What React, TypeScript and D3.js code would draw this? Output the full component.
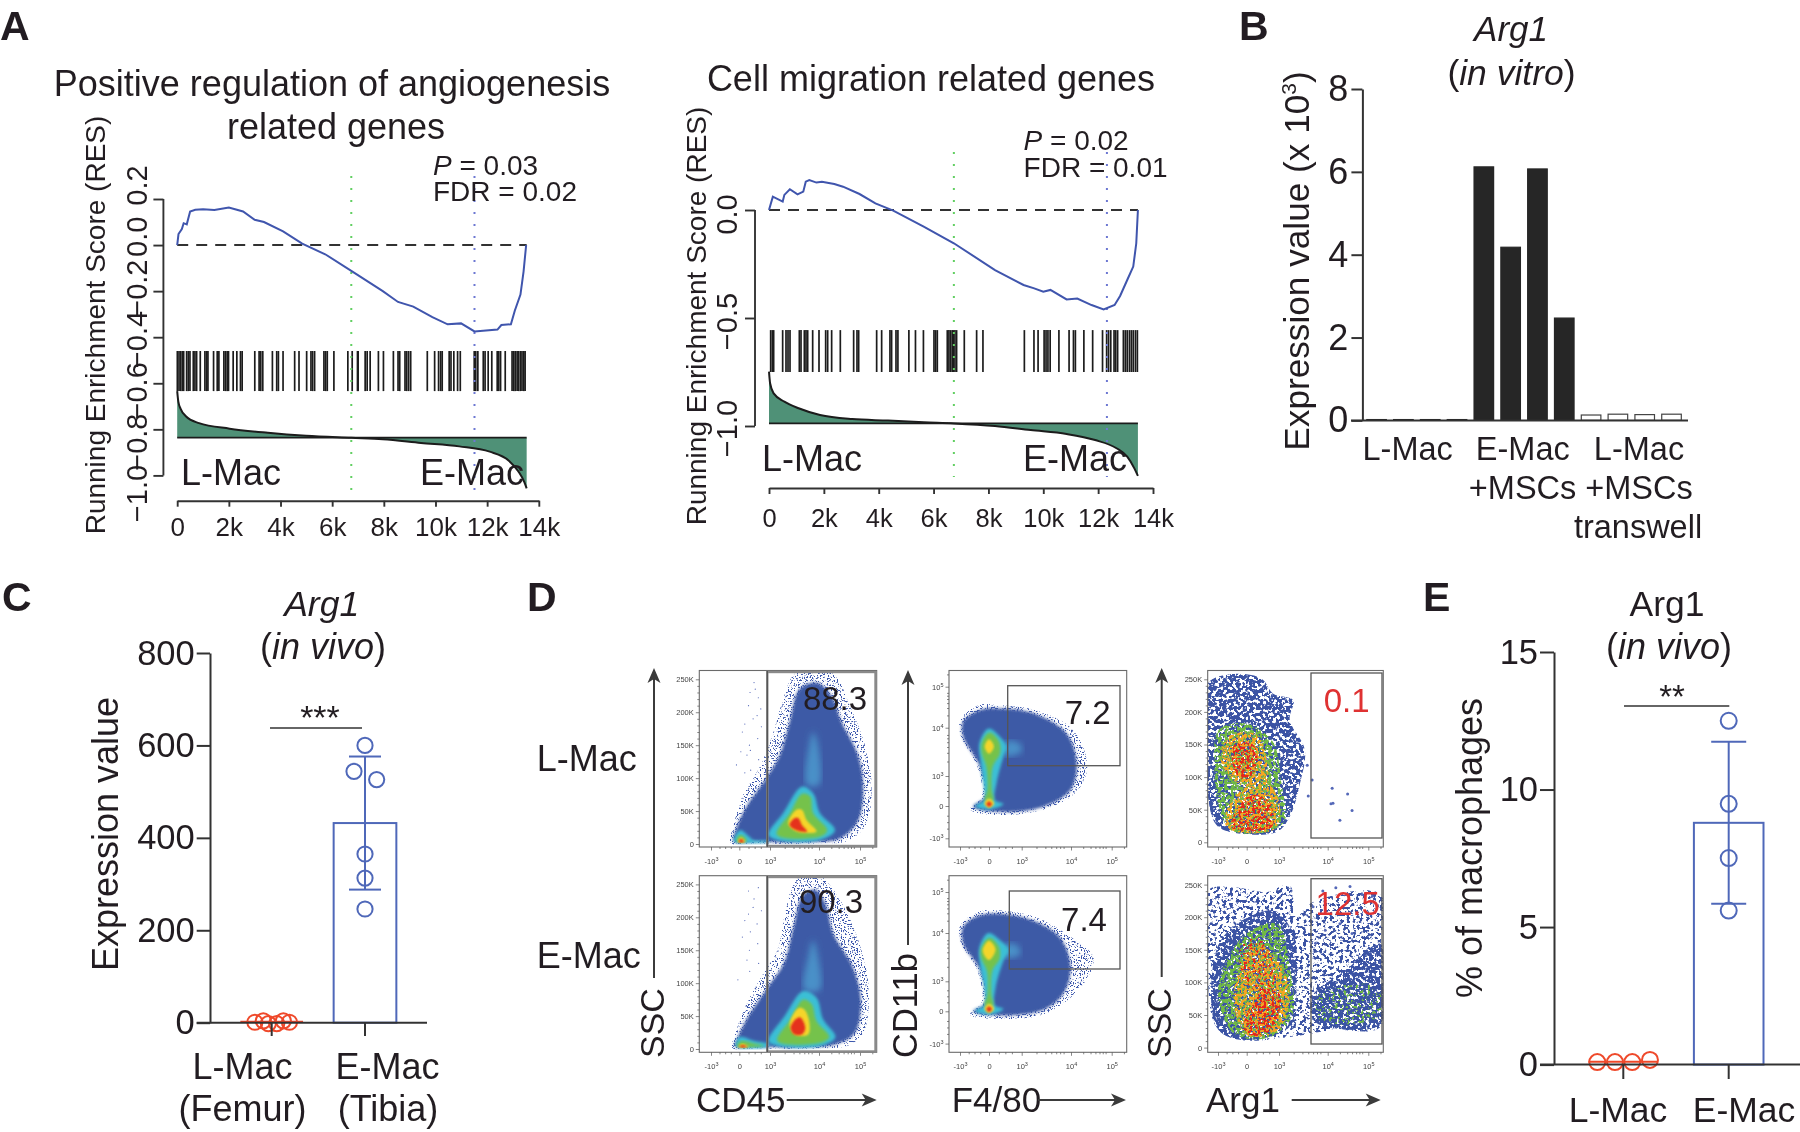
import { useEffect, useRef } from "react";
import * as d3 from "d3";

type Pt = [number, number];
type Layer = [string, Pt[]];

const INK = "#231f20";
const FONT = "'Liberation Sans', Arial, sans-serif";

// ---- panel A, running enrichment score [rank in k, RES]
const angioRes: Pt[] = [[0,0],[.05,.048],[.18,.07],[.25,.095],[.37,.09],[.5,.146],[.7,.153],[1,.155],[1.44,.152],[2,.163],[2.55,.146],[3,.11],[3.36,.1],[4.1,.059],[4.84,.006],[5.73,-.04],[6.74,-.112],[7.96,-.2],[8.55,-.247],[9.14,-.267],[9.88,-.313],[10.47,-.344],[10.99,-.34],[11.51,-.375],[12.4,-.367],[12.55,-.347],[12.92,-.344],[13.07,-.285],[13.29,-.215],[13.41,-.115],[13.51,0]];
const migraRes: Pt[] = [[0,0],[.14,.062],[.5,.039],[.56,.07],[.76,.096],[1.04,.072],[1.25,.085],[1.34,.131],[1.47,.139],[1.73,.127],[1.93,.131],[2.38,.12],[2.7,.108],[3.3,.074],[3.88,.031],[4.53,-.003],[5.64,-.077],[6.74,-.154],[8.24,-.278],[9.28,-.347],[9.67,-.363],[10,-.378],[10.26,-.37],[10.85,-.414],[11.24,-.41],[11.76,-.44],[12.2,-.46],[12.6,-.44],[12.8,-.398],[13.06,-.324],[13.28,-.262],[13.39,-.154],[13.45,0]];

// ranked metric, same axes
const angioMetric: Pt[] = [[0,-.634],[.044,-.68],[.133,-.711],[.326,-.742],[.844,-.773],[2.03,-.797],[3.51,-.815],[4.99,-.828],[6.74,-.837],[7.96,-.843],[9.44,-.859],[10.92,-.874],[12.1,-.897],[12.84,-.936],[13.21,-.983],[13.44,-1.029],[13.53,-1.056]];
const migraMetric: Pt[] = [[0,-.748],[.04,-.802],[.17,-.849],[.56,-.887],[1.08,-.918],[1.86,-.949],[3.03,-.968],[4.34,-.975],[5.64,-.983],[6.74,-.988],[8.24,-1],[9.54,-1.019],[10.85,-1.037],[11.89,-1.065],[12.67,-1.103],[13.06,-1.142],[13.32,-1.196],[13.45,-1.231]];

// gene hits along the ranked list (k)
const angioHits = [.005,.07,.134,.198,.25,.365,.43,.494,.623,.687,.752,.893,1.073,1.138,1.19,1.408,1.55,1.614,1.807,1.871,1.936,1.987,2.167,2.309,2.45,2.515,3.004,3.171,3.236,3.313,3.686,3.853,3.918,4.098,4.548,4.716,5.012,5.179,5.243,5.32,5.681,5.745,5.81,6.067,6.607,6.775,6.98,7.007,7.277,7.354,7.47,7.79,7.985,8.37,8.55,8.615,8.82,8.886,8.96,9.04,9.683,9.967,10.12,10.2,10.26,10.53,10.6,10.71,10.856,10.96,11.5,11.56,11.64,11.85,11.92,12.04,12.18,12.39,12.45,12.52,12.7,12.965,13.03,13.09,13.16,13.22,13.29,13.35,13.42,13.47];
const migraHits = [.061,.122,.17,.498,.62,.693,.766,1.106,1.167,1.288,1.349,1.41,1.592,1.823,2.066,2.139,2.284,2.6,3.086,3.208,3.269,3.925,4.107,4.41,4.47,4.63,4.7,5.1,5.34,5.63,6.015,6.075,6.136,6.5,6.56,6.62,6.68,6.72,6.78,6.84,7.12,7.57,7.8,9.31,9.66,9.81,10.03,10.1,10.17,10.25,10.57,10.94,11.1,11.17,11.48,11.8,12.16,12.31,12.38,12.46,12.58,12.64,12.71,12.92,12.99,13.06,13.14,13.21,13.28,13.36,13.43];

const rankTicks = [0, 2, 4, 6, 8, 10, 12, 14];
const angioResTicks = [-1, -.8, -.6, -.4, -.2, 0, .2];
const migraResTicks = [-1, -.5, 0];

// ---- panel B
const invitroGroups = ["L-Mac", "L-Mac", "L-Mac", "L-Mac", "E-Mac", "E-Mac", "E-Mac", "E-Mac", "Transwell", "Transwell", "Transwell", "Transwell"];
const invitroValues = [.02, .02, .02, .02, 6.12, 4.18, 6.07, 2.47, .13, .15, .14, .15];
const invitroTicks = [0, 2, 4, 6, 8];

// ---- panel C [group offset, value]
const vivoLMac: Pt[] = [[-.18,1],[-.09,4],[-.036,-2],[.054,-2],[.125,4],[.19,1]];
const vivoEMac: Pt[] = [[0,600],[-.118,544],[.125,526],[0,365],[0,313],[0,246]];
const vivoMean = [2, 432];
const vivoSd = [0, 144];
const vivoTicks = [0, 200, 400, 600, 800];

// ---- panel E
const pctLMac: Pt[] = [[-.247,.09],[-.079,.09],[.085,.09],[.253,.17]];
const pctEMac: Pt[] = [[0,12.5],[0,9.48],[0,7.51],[0,5.6]];
const pctMean = [.1, 8.79];
const pctSd = [0, 2.945];
const pctTicks = [0, 5, 10, 15];

// ---- panel D, density outlines in axis units: x in decades (-1 = -10^3, 0, 1 = 10^3, ...), y in K or decades
const cd45TopLayers: Layer[] = [
  ["halo", [[-.3,2],[-.2,28],[.1,72],[.7,120],[1.05,165],[1.25,215],[1.5,258],[1.95,270],[2.4,255],[2.75,210],[3.12,150],[3.28,90],[3.15,30],[2.7,5],[2,1],[.5,1]]],
  ["blue", [[-.2,4],[-.1,24],[.25,58],[.85,98],[1.2,135],[1.4,185],[1.6,235],[1.95,245],[2.3,225],[2.55,185],[2.95,135],[3.08,85],[2.95,35],[2.5,8],[1.8,3],[.5,3]]],
  ["light", [[1.75,90],[1.8,150],[1.88,170],[1.98,150],[2,90]]],
  ["cyan", [[1.65,87],[1.27,47],[.95,14],[1.14,6],[2.02,6],[2.39,21],[2.02,47],[1.88,77]]],
  ["cyan", [[-.2,4],[.02,21],[.3,12],[.46,6],[1,5],[.95,3],[0,2]]],
  ["green", [[1.65,76],[1.41,47],[1.14,14],[2.02,11],[2.2,21],[1.88,47],[1.82,72]]],
  ["green", [[-.1,4],[.03,14],[.25,5]]],
  ["yellow", [[1.54,52],[1.37,31],[1.54,19],[1.95,19],[1.75,36],[1.65,52]]],
  ["yellow", [[-.05,3],[.05,10],[.2,3]]],
  ["red", [[1.5,39],[1.4,29],[1.54,21],[1.76,19],[1.65,29],[1.58,39]]],
  ["red", [[-.02,3],[.06,8],[.15,3]]],
];
const cd45BottomLayers: Layer[] = [
  ["halo", [[-.25,2],[-.15,22],[.2,65],[.75,112],[1.15,150],[1.32,210],[1.52,255],[1.9,270],[2.25,250],[2.7,205],[3.1,135],[3.22,80],[3.08,25],[2.7,5],[2,1],[.5,1]]],
  ["blue", [[-.15,4],[-.05,18],[.3,50],[.9,92],[1.28,130],[1.48,185],[1.66,232],[1.92,242],[2.15,222],[2.35,175],[2.82,125],[3.02,75],[2.88,25],[2.45,8],[1.8,3],[.5,3]]],
  ["light", [[1.7,90],[1.78,140],[1.88,165],[1.98,140],[2.02,90]]],
  ["cyan", [[1.68,88],[1.3,50],[.95,12],[1.14,5],[2.05,5],[2.4,18],[2.1,45],[1.95,78]]],
  ["cyan", [[-.12,4],[0,18],[.5,12],[1,7],[.9,3],[0,2]]],
  ["green", [[1.68,75],[1.42,45],[1.15,12],[2,9],[2.25,18],[1.95,42],[1.85,68]]],
  ["green", [[-.08,4],[.05,12],[.5,8],[.8,5],[.3,3]]],
  ["yellow", [[1.58,62],[1.4,38],[1.5,22],[1.78,22],[1.8,42],[1.7,60]]],
  ["yellow", [[-.03,3],[.1,8],[.3,3]]],
  ["red", [[1.52,45],[1.42,32],[1.5,22],[1.65,22],[1.72,32],[1.62,48]]],
  ["red", [[0,3],[.1,6],[.25,3]]],
];
const f480TopLayers: Layer[] = [
  ["halo", [[-.98,2.2],[-.35,2.55],[.34,2.55],[1.3,2.42],[2.05,1.95],[2.4,1.2],[2.15,.5],[1.5,-.08],[.34,-.28],[-.65,-.1],[-.25,.3],[-.4,1.2],[-.98,1.85]]],
  ["blue", [[-.89,2.15],[-.31,2.43],[.34,2.47],[1.24,2.35],[1.91,1.88],[2.14,1.26],[1.99,.53],[1.44,-.02],[.34,-.18],[-.54,-.02],[-.14,.31],[-.31,1.19],[-.89,1.81]]],
  ["light", [[.5,1.42],[.55,1.72],[.95,1.66],[1,1.5]]],
  ["cyan", [[-.33,1.68],[-.02,1.98],[.34,1.81],[.54,1.61],[.44,1.4],[.23,.76],[.18,.2],[.44,.07],[.03,-.1],[-.48,0],[-.17,.2],[-.19,.76],[-.28,1.26]]],
  ["green", [[-.25,1.68],[.01,1.9],[.29,1.74],[.34,1.47],[.11,1.19],[.08,.53],[.13,.2],[-.14,.2],[-.05,.53],[-.09,1.19],[-.25,1.47]]],
  ["yellow", [[-.15,1.61],[0,1.76],[.15,1.61],[0,1.46]]],
  ["yellow", [[-.16,.09],[0,.25],[.16,.09],[0,-.06]]],
  ["red", [[-.09,.07],[0,.15],[.09,.07],[0,-.02]]],
];
const f480BottomLayers: Layer[] = [
  ["halo", [[-.98,2.2],[-.35,2.52],[.34,2.55],[1.3,2.38],[1.95,1.95],[2.55,1.5],[2.3,.9],[1.5,-.06],[.34,-.24],[-.65,-.1],[-.25,.3],[-.4,1.23],[-.98,1.82]]],
  ["blue", [[-.89,2.15],[-.31,2.43],[.34,2.47],[1.24,2.3],[1.78,1.9],[1.99,1.3],[1.85,.6],[1.44,.05],[.34,-.13],[-.54,0],[-.14,.27],[-.31,1.23],[-.89,1.78]]],
  ["light", [[.5,1.5],[.55,1.78],[.9,1.72],[.95,1.55]]],
  ["cyan", [[-.33,1.7],[-.02,2],[.34,1.85],[.6,1.65],[.44,1.42],[.2,.78],[.18,.2],[.44,.08],[.03,-.1],[-.48,.02],[-.17,.2],[-.16,.78],[-.3,1.3]]],
  ["green", [[-.28,1.66],[.01,1.9],[.3,1.72],[.32,1.46],[.1,1.22],[.07,.55],[.13,.2],[-.14,.2],[-.05,.55],[-.07,1.22],[-.25,1.45]]],
  ["yellow", [[-.22,1.64],[0,1.84],[.2,1.66],[0,1.44]]],
  ["yellow", [[-.16,.09],[0,.25],[.16,.09],[0,-.06]]],
  ["red", [[-.09,.08],[0,.16],[.09,.08],[0,-.02]]],
];
const arg1TopLayers: Layer[] = [
  ["dotBlue", [[-1.35,244],[-.47,258],[.46,251],[.82,228],[1.29,218],[1.22,188],[1.53,142],[1.43,90],[1.22,39],[.94,16],[-.47,15],[-1.06,27],[-1.35,70],[-1.35,167]]],
  ["dotGreen", [[-.98,172],[0,182],[.8,155],[1.05,90],[1.12,34],[.7,17],[-.55,19],[-1.0,60],[-1.12,121]]],
  ["dotOrange", [[-.65,162],[.3,165],[.62,125],[.55,85],[-.35,92],[-.9,126]]],
  ["dotOrange", [[-.78,36],[-.25,78],[.6,92],[1.02,55],[.85,20],[-.6,20]]],
  ["dotRed", [[-.42,150],[.2,150],[.32,116],[-.05,95],[-.45,112]]],
  ["dotRed", [[-.55,27],[.1,72],[.7,62],[.78,24],[-.45,20]]],
];
const arg1BottomLayers: Layer[] = [
  ["dotSparse", [[-1.35,241],[-.47,246],[.61,239],[1.22,249],[1.36,200],[1.64,221],[3.28,236],[3.3,149],[3.3,32],[2.12,27],[1.29,17],[-.24,12],[-1.06,32],[-1.35,98]]],
  ["dotBlue", [[-1.06,149],[-.47,185],[.82,210],[1.29,175],[1.36,98],[1.22,32],[-.24,12],[-1.06,32]]],
  ["dotBlue", [[1.68,78],[2.45,119],[3.3,159],[3.3,37],[2.12,30],[1.71,42]]],
  ["dotGreen", [[-.8,124],[0,175],[.95,190],[1.22,124],[1.26,47],[.65,15],[-.4,20],[-.98,73]]],
  ["dotGreenSparse", [[1.77,78],[2.93,98],[3.3,83],[3.25,47],[1.85,42]]],
  ["dotOrange", [[-.4,98],[.25,160],[1,132],[1.22,83],[1,28],[.05,18],[-.35,47]]],
  ["dotRed", [[-.1,30],[.5,88],[1.02,82],[.8,30],[.3,17]]],
  ["dotRedSparse", [[-.25,149],[.3,170],[.8,135],[.9,90],[.15,90]]],
];

// loose events
const cd45TopStray: Pt[] = [[.35,230],[.62,222],[.3,210],[.58,195],[.45,190],[.1,170],[.33,150],[.6,160],[.25,135],[-.1,120],[.52,235],[.7,205],[.18,182],[.36,142],[.63,128],[.18,108],[.37,112],[.05,140],[.72,178],[.48,245]];
const cd45BottomStray: Pt[] = [[.3,240],[.62,245],[.3,205],[.58,190],[.45,215],[.1,170],[.33,150],[.6,160],[.25,135],[-.05,105],[.36,178],[.18,195],[.63,130],[.34,118],[.72,210],[.48,228]];
const arg1TopStray: Pt[] = [[2.11,83],[2.49,74],[2.08,59],[2.13,60],[2.6,48.6],[2.3,33.7],[1.68,95.6],[1.6,71],[1.58,118]];
const arg1BottomStray: Pt[] = [[1.7,216],[1.9,240],[2.2,245],[2.55,247],[2.85,235],[3.1,232],[1.95,180],[2.3,190],[2.6,175],[3,205],[1.75,160]];

const decadeTicks = [-1, 0, 1, 2, 3];
const decadeMinor = [-.7, -.5, -.3, .3, .5, .7, 1.3, 1.48, 1.6, 1.7, 1.78, 1.85, 2.3, 2.48, 2.6, 2.7, 2.78, 2.85, 3.3];
const sscTicks = [0, 50, 100, 150, 200, 250];
const sscMinor = [10, 20, 30, 40, 60, 70, 80, 90, 110, 120, 130, 140, 160, 170, 180, 190, 210, 220, 230, 240];

const LAYER_STYLE: Record<string, { fill: string; filter: string }> = {
  halo: { fill: "#3d58ad", filter: "url(#specks)" },
  blue: { fill: "#3c5aa6", filter: "url(#blur2)" },
  light: { fill: "#4a90c8", filter: "url(#blur3)" },
  cyan: { fill: "#3bbfd6", filter: "url(#blur2)" },
  green: { fill: "#75c24b", filter: "url(#blur2)" },
  yellow: { fill: "#f4d52c", filter: "url(#blur1)" },
  red: { fill: "#e5301f", filter: "url(#blur1)" },
  dotBlue: { fill: "#3a52a4", filter: "url(#dotBlue)" },
  dotSparse: { fill: "#3a52a4", filter: "url(#dotSparse)" },
  dotGreen: { fill: "#6fb845", filter: "url(#dotGreen)" },
  dotGreenSparse: { fill: "#6fb845", filter: "url(#dotRedSparse)" },
  dotOrange: { fill: "#f5a524", filter: "url(#dotOrange)" },
  dotRed: { fill: "#e6281e", filter: "url(#dotRed)" },
  dotRedSparse: { fill: "#e6281e", filter: "url(#dotRedSparse)" },
};

type Sel = d3.Selection<any, any, any, any>;

function addText(g: Sel, x: number, y: number, str: string, size: number, opts: { anchor?: string; fill?: string; weight?: string; italic?: boolean; rotate?: boolean } = {}) {
  const t = g.append("text")
    .attr("font-family", FONT)
    .attr("font-size", size)
    .attr("fill", opts.fill ?? INK)
    .attr("text-anchor", opts.anchor ?? "start");
  if (opts.rotate) t.attr("transform", `translate(${x},${y}) rotate(-90)`);
  else t.attr("x", x).attr("y", y);
  if (opts.weight) t.attr("font-weight", opts.weight);
  if (opts.italic) t.attr("font-style", "italic");
  t.text(str);
  return t;
}

// "(in vitro)": only the words lean
function addMixed(g: Sel, x: number, y: number, parts: [string, boolean][], size: number, anchor = "middle") {
  const t = g.append("text").attr("x", x).attr("y", y).attr("font-family", FONT).attr("font-size", size).attr("fill", INK).attr("text-anchor", anchor);
  parts.forEach(([s, it]) => t.append("tspan").attr("font-style", it ? "italic" : "normal").text(s));
}

function addArrow(g: Sel, x1: number, y1: number, x2: number, y2: number) {
  const ang = Math.atan2(y2 - y1, x2 - x1);
  const len = Math.hypot(x2 - x1, y2 - y1);
  const a = g.append("g").attr("transform", `translate(${x1},${y1}) rotate(${(ang * 180) / Math.PI})`);
  a.append("line").attr("x2", len - 8).attr("stroke", "#3a3a3a").attr("stroke-width", 2);
  a.append("path").attr("d", `M${len},0L${len - 15},-6.5L${len - 11},0L${len - 15},6.5Z`).attr("fill", "#3a3a3a");
}

interface GseaSpec {
  title: { str: string; x: number; y: number }[];
  res: Pt[]; metric: Pt[]; hits: number[]; yTicks: number[];
  baseline: number; hitTop: number; hitBottom: number; yEnd: number; dotTop: number; dotBottom: number;
  axisX: number; xLeft: number; xRight: number; yTop: number; yBottom: number; domainTop: number;
  xAxisY: number; tickLen: number; labelBase: number; labelRange: [number, number]; yTitleX: number; yTitleY: number;
  stat: string[]; statX: number; statY: number[]; lX: number; eX: number; macY: number; blueRank: number; fontTick: number; fontY: number; xLabelY: number;
}

function drawGsea(svg: Sel, s: GseaSpec) {
  const x = d3.scaleLinear().domain([0, 14]).range([s.xLeft, s.xRight]);
  const y = d3.scaleLinear().domain([s.yEnd, s.domainTop]).range([s.yBottom, s.yTop]);
  const labelY = d3.scaleLinear().domain([s.yEnd, s.domainTop]).range(s.labelRange);

  s.title.forEach((l) => addText(svg, l.x, l.y, l.str, 36, { anchor: "middle" }));

  // ranked metric
  svg.append("path")
    .attr("d", d3.area<Pt>().x((d) => x(d[0])).y0(y(s.baseline)).y1((d) => y(d[1])).curve(d3.curveMonotoneX)(s.metric) as string)
    .attr("fill", "#4f9177");
  svg.append("path")
    .attr("d", d3.line<Pt>().x((d) => x(d[0])).y((d) => y(d[1])).curve(d3.curveMonotoneX)(s.metric) as string)
    .attr("fill", "none").attr("stroke", "#1c1c1c").attr("stroke-width", 2);
  const last = s.metric[s.metric.length - 1][0];
  svg.append("line").attr("x1", x(0)).attr("x2", x(last)).attr("y1", y(s.baseline)).attr("y2", y(s.baseline)).attr("stroke", "#1c1c1c").attr("stroke-width", 1.7);

  // hits
  svg.append("g").selectAll("line").data(s.hits).join("line")
    .attr("x1", (d) => x(d)).attr("x2", (d) => x(d)).attr("y1", y(s.hitTop)).attr("y2", y(s.hitBottom))
    .attr("stroke", "#1d1d1d").attr("stroke-width", 1.7);

  // peak markers
  svg.append("line").attr("x1", x(6.74)).attr("x2", x(6.74)).attr("y1", s.dotTop).attr("y2", s.dotBottom)
    .attr("stroke", "#63cf63").attr("stroke-width", 2).attr("stroke-dasharray", "2 10");
  svg.append("line").attr("x1", x(s.blueRank)).attr("x2", x(s.blueRank)).attr("y1", s.dotTop).attr("y2", s.dotBottom)
    .attr("stroke", "#6d78d2").attr("stroke-width", 2).attr("stroke-dasharray", "2 10");

  // zero line and curve
  svg.append("line").attr("x1", x(0)).attr("x2", x(last)).attr("y1", y(0)).attr("y2", y(0))
    .attr("stroke", "#333").attr("stroke-width", 2).attr("stroke-dasharray", "11 8");
  svg.append("path")
    .attr("d", d3.line<Pt>().x((d) => x(d[0])).y((d) => y(d[1]))(s.res) as string)
    .attr("fill", "none").attr("stroke", "#3f55ad").attr("stroke-width", 2);

  // y axis, its labels run upward
  const ya = svg.append("g").attr("transform", `translate(${s.axisX},0)`)
    .call(d3.axisLeft(y).tickValues(s.yTicks).tickSize(s.tickLen).tickSizeOuter(0).tickFormat((d) => {
      const v = d as number;
      return (v < 0 ? "−" : "") + Math.abs(v).toFixed(1);
    }) as any);
  ya.select(".domain").attr("stroke", "#333").attr("stroke-width", 1.9).attr("d", `M0,${y(d3.max(s.yTicks)!)}V${y(-1)}`);
  ya.selectAll(".tick line").attr("stroke", "#333").attr("stroke-width", 1.9);
  ya.selectAll<SVGTextElement, number>(".tick text")
    .attr("font-family", FONT).attr("font-size", s.fontY).attr("fill", INK)
    .attr("text-anchor", "middle").attr("x", 0).attr("y", 0).attr("dy", 0)
    .attr("transform", (d) => `translate(${s.labelBase - s.axisX},${labelY(d) - y(d)}) rotate(-90)`);
  addText(svg, s.yTitleX, s.yTitleY, "Running Enrichment Score (RES)", 28, { anchor: "middle", rotate: true });

  // x axis
  const xa = svg.append("g").attr("transform", `translate(0,${s.xAxisY})`)
    .call(d3.axisBottom(x).tickValues(rankTicks).tickSize(6).tickSizeOuter(0).tickFormat((d) => ((d as number) === 0 ? "0" : `${d}k`)) as any);
  xa.select(".domain").attr("stroke", "#333").attr("stroke-width", 1.9);
  xa.selectAll(".tick line").attr("stroke", "#333").attr("stroke-width", 1.9);
  xa.selectAll(".tick text").attr("font-family", FONT).attr("font-size", s.fontTick).attr("fill", INK).attr("y", s.xLabelY - s.xAxisY).attr("dy", 0);

  // stats
  const p = svg.append("text").attr("x", s.statX).attr("y", s.statY[0]).attr("font-family", FONT).attr("font-size", 28).attr("fill", INK);
  p.append("tspan").attr("font-style", "italic").text("P");
  p.append("tspan").text(` = ${s.stat[0]}`);
  addText(svg, s.statX, s.statY[1], `FDR = ${s.stat[1]}`, 28);
  addText(svg, s.lX, s.macY, "L-Mac", 36);
  addText(svg, s.eX, s.macY, "E-Mac", 36);
}

interface DotBarSpec {
  axisX: number; xEnd: number; tickLeft: number; yRange: [number, number]; yDomain: [number, number]; ticks: number[];
  groupPx: [number, number]; tickBottom: number; barW: number; capW: number; r: number;
  mean: number[]; sd: number[]; lPts: Pt[]; ePts: Pt[];
}

function drawDotBars(svg: Sel, s: DotBarSpec) {
  const y = d3.scaleLinear().domain(s.yDomain).range(s.yRange);
  const x = d3.scaleLinear().domain([0, 1]).range(s.groupPx);
  const RED = "#ef4a2c";
  const BLUE = "#4f68b9";
  const colors = [RED, BLUE];

  [0, 1].forEach((i) => {
    const g = svg.append("g").attr("stroke", colors[i]).attr("fill", "none").attr("stroke-width", 2);
    const cx = x(i);
    if (i === 1) {
      g.append("rect").attr("x", cx - s.barW / 2).attr("width", s.barW).attr("y", y(s.mean[i])).attr("height", y(0) - y(s.mean[i]));
      g.append("line").attr("x1", cx).attr("x2", cx).attr("y1", y(s.mean[i] + s.sd[i])).attr("y2", y(s.mean[i] - s.sd[i]));
      [s.mean[i] + s.sd[i], s.mean[i] - s.sd[i]].forEach((v) =>
        g.append("line").attr("x1", cx - s.capW / 2).attr("x2", cx + s.capW / 2).attr("y1", y(v)).attr("y2", y(v)));
    } else {
      g.append("line").attr("x1", cx - s.barW / 2).attr("x2", cx + s.barW / 2).attr("y1", y(s.mean[i])).attr("y2", y(s.mean[i]));
    }
    g.selectAll("circle").data(i === 0 ? s.lPts : s.ePts).join("circle")
      .attr("cx", (d) => x(i + d[0])).attr("cy", (d) => y(d[1])).attr("r", s.r);
  });

  const ya = svg.append("g").attr("transform", `translate(${s.axisX},0)`)
    .call(d3.axisLeft(y).tickValues(s.ticks).tickSize(s.axisX - s.tickLeft).tickSizeOuter(0).tickPadding(2) as any);
  ya.select(".domain").attr("stroke", "#333").attr("stroke-width", 2);
  ya.selectAll(".tick line").attr("stroke", "#333").attr("stroke-width", 2);
  ya.selectAll(".tick text").attr("font-family", FONT).attr("font-size", 34.5).attr("fill", INK);

  const base = svg.append("g").attr("stroke", "#333").attr("stroke-width", 2);
  base.append("line").attr("x1", s.tickLeft).attr("x2", s.xEnd).attr("y1", y(0)).attr("y2", y(0));
  [0, 1].forEach((i) => base.append("line").attr("x1", x(i)).attr("x2", x(i)).attr("y1", y(0)).attr("y2", s.tickBottom));
}

interface FlowSpec {
  id: string; left: number; right: number; top: number; bottom: number;
  xPos: number[]; yKind: "ssc" | "decade"; yPos: number[]; layers: Layer[]; stray?: Pt[]; strayR?: number;
}

function drawFlow(svg: Sel, defs: Sel, s: FlowSpec) {
  const x = d3.scaleLinear().domain(decadeTicks).range(s.xPos);
  const y = d3.scaleLinear().domain(s.yKind === "ssc" ? [0, 250] : decadeTicks).range(s.yPos);
  defs.append("clipPath").attr("id", s.id).append("rect").attr("x", s.left).attr("y", s.top).attr("width", s.right - s.left).attr("height", s.bottom - s.top);

  const area = svg.append("g").attr("clip-path", `url(#${s.id})`);
  const line = d3.line<Pt>().x((d) => x(d[0])).y((d) => y(d[1])).curve(d3.curveCatmullRomClosed.alpha(0.5));
  s.layers.forEach(([kind, pts]) => {
    area.append("path").attr("d", line(pts) as string).attr("fill", LAYER_STYLE[kind].fill).attr("filter", LAYER_STYLE[kind].filter);
  });
  if (s.stray) {
    area.selectAll("circle").data(s.stray).join("circle")
      .attr("cx", (d) => x(d[0])).attr("cy", (d) => y(d[1])).attr("r", s.strayR ?? 0.6).attr("fill", "#5468b8");
  }
  svg.append("rect").attr("x", s.left).attr("y", s.top).attr("width", s.right - s.left).attr("height", s.bottom - s.top)
    .attr("fill", "none").attr("stroke", "#6a6a6a").attr("stroke-width", 1.1);

  const sup = (sel: Sel, prefix: string, exp: string) => {
    sel.text(null);
    sel.append("tspan").text(prefix);
    sel.append("tspan").attr("dy", -3).attr("font-size", 5.5).text(exp);
  };
  const decadeLabel = (t: Sel, v: number) => {
    if (v === 0) t.text("0");
    else if (v === -1) sup(t, "-10", "3");
    else sup(t, "10", String(v + 2));
  };

  const styleAxis = (g: Sel) => {
    g.select(".domain").attr("stroke", "none");
    g.selectAll(".tick line").attr("stroke", "#555").attr("stroke-width", 0.7);
    g.selectAll(".tick text").attr("font-family", FONT).attr("font-size", 7.5).attr("fill", "#444");
  };

  const xMinor = svg.append("g").attr("transform", `translate(0,${s.bottom})`)
    .call(d3.axisBottom(x).tickValues(decadeMinor).tickSize(2).tickFormat(() => "") as any);
  styleAxis(xMinor);
  const xMajor = svg.append("g").attr("transform", `translate(0,${s.bottom})`)
    .call(d3.axisBottom(x).tickValues(decadeTicks).tickSize(3.5).tickPadding(8) as any);
  styleAxis(xMajor);
  xMajor.selectAll<SVGTextElement, number>(".tick text").each(function (d) { decadeLabel(d3.select(this), d); });

  if (s.yKind === "ssc") {
    const yMinor = svg.append("g").attr("transform", `translate(${s.left},0)`)
      .call(d3.axisLeft(y).tickValues(sscMinor).tickSize(2).tickFormat(() => "") as any);
    styleAxis(yMinor);
    const yMajor = svg.append("g").attr("transform", `translate(${s.left},0)`)
      .call(d3.axisLeft(y).tickValues(sscTicks).tickSize(3.5).tickPadding(2).tickFormat((d) => ((d as number) === 0 ? "0" : `${d}K`)) as any);
    styleAxis(yMajor);
  } else {
    const yMinor = svg.append("g").attr("transform", `translate(${s.left},0)`)
      .call(d3.axisLeft(y).tickValues(decadeMinor).tickSize(2).tickFormat(() => "") as any);
    styleAxis(yMinor);
    const yMajor = svg.append("g").attr("transform", `translate(${s.left},0)`)
      .call(d3.axisLeft(y).tickValues(decadeTicks).tickSize(3.5).tickPadding(2) as any);
    styleAxis(yMajor);
    yMajor.selectAll<SVGTextElement, number>(".tick text").each(function (d) { decadeLabel(d3.select(this), d); });
  }
}

function speckFilter(defs: Sel, id: string, freq: number, seed: number, cut: number, octaves = 2) {
  const k = 14;
  const f = defs.append("filter").attr("id", id).attr("x", "-5%").attr("y", "-5%").attr("width", "110%").attr("height", "110%")
    .attr("color-interpolation-filters", "sRGB");
  f.append("feTurbulence").attr("type", "fractalNoise").attr("baseFrequency", freq).attr("numOctaves", octaves).attr("seed", seed).attr("result", "n");
  f.append("feColorMatrix").attr("in", "n").attr("type", "matrix")
    .attr("values", `0 0 0 0 0  0 0 0 0 0  0 0 0 0 0  ${k} 0 0 0 ${-k * cut}`).attr("result", "m");
  f.append("feComposite").attr("in", "SourceGraphic").attr("in2", "m").attr("operator", "in").attr("result", "c");
  f.append("feGaussianBlur").attr("in", "c").attr("stdDeviation", 0.35);
}

export default function App() {
  const ref = useRef<SVGSVGElement | null>(null);

  useEffect(() => {
    if (!ref.current) return;
    const root = d3.select(ref.current);
    root.selectAll("*").remove();
    const defs = root.append("defs");
    [["blur1", 0.9], ["blur2", 1.6], ["blur3", 3]].forEach(([id, sd]) => {
      defs.append("filter").attr("id", id as string).append("feGaussianBlur").attr("stdDeviation", sd as number);
    });
    defs.append("filter").attr("id", "soft").attr("filterUnits", "userSpaceOnUse")
      .attr("x", 0).attr("y", 0).attr("width", 1800).attr("height", 1132)
      .append("feGaussianBlur").attr("stdDeviation", 0.45);
    speckFilter(defs, "specks", 0.7, 3, 0.56, 3);
    speckFilter(defs, "dotBlue", 0.3, 7, 0.42);
    speckFilter(defs, "dotSparse", 0.3, 11, 0.52);
    speckFilter(defs, "dotGreen", 0.32, 5, 0.45);
    speckFilter(defs, "dotOrange", 0.34, 9, 0.47);
    speckFilter(defs, "dotRed", 0.36, 13, 0.5);
    speckFilter(defs, "dotRedSparse", 0.34, 17, 0.58);

    const svg = root.append("g").attr("filter", "url(#soft)");
    svg.append("rect").attr("width", 1800).attr("height", 1132).attr("fill", "#fff");

    const letter = (s: string, x: number, y: number) => addText(svg, x, y, s, 41, { weight: "bold" });
    letter("A", 0, 40);
    letter("B", 1239, 40);
    letter("C", 2, 611);
    letter("D", 527, 611);
    letter("E", 1423, 611);

    // ---- A
    drawGsea(svg, {
      title: [{ str: "Positive regulation of angiogenesis", x: 332, y: 96 }, { str: "related genes", x: 336, y: 139 }],
      res: angioRes, metric: angioMetric, hits: angioHits, yTicks: angioResTicks,
      baseline: -.836, hitTop: -.46, hitBottom: -.634, yEnd: -1, domainTop: .2, dotTop: 176, dotBottom: 490,
      axisX: 163.4, xLeft: 177.2, xRight: 538.8, yTop: 199, yBottom: 475.4,
      xAxisY: 500.7, tickLen: 10, labelBase: 147, labelRange: [493, 185], yTitleX: 105, yTitleY: 325,
      stat: ["0.03", "0.02"], statX: 433, statY: [175, 201], lX: 181, eX: 420, macY: 485, blueRank: 11.51, fontTick: 26, fontY: 29, xLabelY: 536,
    });
    drawGsea(svg, {
      title: [{ str: "Cell migration related genes", x: 931, y: 91 }],
      res: migraRes, metric: migraMetric, hits: migraHits, yTicks: migraResTicks,
      baseline: -.988, hitTop: -.556, hitBottom: -.75, yEnd: -1, domainTop: 0, dotTop: 152, dotBottom: 477,
      axisX: 755, xLeft: 769, xRight: 1153, yTop: 210, yBottom: 426,
      xAxisY: 488, tickLen: 10, labelBase: 737, labelRange: [428, 214], yTitleX: 706, yTitleY: 316,
      stat: ["0.02", "0.01"], statX: 1023.6, statY: [150, 177], lX: 762, eX: 1023, macY: 471, blueRank: 12.32, fontTick: 25.5, fontY: 29, xLabelY: 527,
    });

    // ---- B
    const bx = d3.scaleBand<number>().domain(d3.range(invitroValues.length)).range([1366.8, 1681.3]).paddingInner(0.27).paddingOuter(0);
    const by = d3.scaleLinear().domain([0, 8]).range([420.4, 89]);
    svg.append("g").selectAll("rect").data(invitroValues).join("rect")
      .attr("x", (_, i) => bx(i)!).attr("width", bx.bandwidth())
      .attr("y", (d) => by(d)).attr("height", (d) => by(0) - by(d))
      .attr("fill", (_, i) => (invitroGroups[i] === "Transwell" ? "#fff" : "#262626"))
      .attr("stroke", (_, i) => (invitroGroups[i] === "Transwell" ? "#444" : "#262626"))
      .attr("stroke-width", 1.2);
    const bya = svg.append("g").attr("transform", "translate(1362.4,0)")
      .call(d3.axisLeft(by).tickValues(invitroTicks).tickSize(11).tickSizeOuter(0).tickPadding(3) as any);
    bya.select(".domain").attr("stroke", "#333").attr("stroke-width", 2);
    bya.selectAll(".tick line").attr("stroke", "#333").attr("stroke-width", 2);
    bya.selectAll(".tick text").attr("font-family", FONT).attr("font-size", 36).attr("fill", INK);
    svg.append("line").attr("x1", 1351).attr("x2", 1688).attr("y1", by(0)).attr("y2", by(0)).attr("stroke", "#333").attr("stroke-width", 2);
    addText(svg, 1511, 41, "Arg1", 35, { anchor: "middle", italic: true });
    addMixed(svg, 1511.5, 85, [["(", false], ["in vitro", true], [")", false]], 35.5);
    const by2 = addText(svg, 1309, 261, "Expression value (x 10", 35.2, { anchor: "middle", rotate: true });
    by2.append("tspan").attr("dy", -13).attr("font-size", 21).text("3");
    by2.append("tspan").attr("dy", 13).text(")");
    addText(svg, 1407.7, 460, "L-Mac", 32.5, { anchor: "middle" });
    addText(svg, 1522.8, 460, "E-Mac", 32.5, { anchor: "middle" });
    addText(svg, 1522.6, 499, "+MSCs", 32.5, { anchor: "middle" });
    addText(svg, 1639, 460, "L-Mac", 32.5, { anchor: "middle" });
    addText(svg, 1639, 499, "+MSCs", 32.5, { anchor: "middle" });
    addText(svg, 1638, 538, "transwell", 32.5, { anchor: "middle" });

    // ---- C
    drawDotBars(svg, {
      axisX: 210, xEnd: 427, tickLeft: 196.7, yRange: [1022.7, 653], yDomain: [0, 800], ticks: vivoTicks,
      groupPx: [271.7, 365], tickBottom: 1036, barW: 62.7, capW: 32, r: 7.6,
      mean: vivoMean, sd: vivoSd, lPts: vivoLMac, ePts: vivoEMac,
    });
    addText(svg, 321.7, 616, "Arg1", 35.5, { anchor: "middle", italic: true });
    addMixed(svg, 323, 659, [["(", false], ["in vivo", true], [")", false]], 36);
    addText(svg, 118, 834, "Expression value", 36, { anchor: "middle", rotate: true });
    svg.append("line").attr("x1", 270).attr("x2", 362).attr("y1", 728).attr("y2", 728).attr("stroke", "#333").attr("stroke-width", 1.7);
    addText(svg, 320, 729, "***", 34, { anchor: "middle" });
    addText(svg, 242.5, 1079, "L-Mac", 36, { anchor: "middle" });
    addText(svg, 242.5, 1121, "(Femur)", 36, { anchor: "middle" });
    addText(svg, 387.5, 1079, "E-Mac", 36, { anchor: "middle" });
    addText(svg, 388, 1121, "(Tibia)", 36, { anchor: "middle" });

    // ---- E
    drawDotBars(svg, {
      axisX: 1554, xEnd: 1800, tickLeft: 1540, yRange: [1064.6, 652], yDomain: [0, 15], ticks: pctTicks,
      groupPx: [1623.3, 1728.7], tickBottom: 1079, barW: 69.6, capW: 35, r: 8,
      mean: pctMean, sd: pctSd, lPts: pctLMac, ePts: pctEMac,
    });
    addText(svg, 1667, 616, "Arg1", 35.5, { anchor: "middle" });
    addMixed(svg, 1669, 659, [["(", false], ["in vivo", true], [")", false]], 36);
    addText(svg, 1481.7, 848, "% of macrophages", 36, { anchor: "middle", rotate: true });
    svg.append("line").attr("x1", 1624).attr("x2", 1729.3).attr("y1", 706).attr("y2", 706).attr("stroke", "#333").attr("stroke-width", 1.7);
    addText(svg, 1672, 707.6, "**", 33, { anchor: "middle" });
    addText(svg, 1618, 1122, "L-Mac", 35.5, { anchor: "middle" });
    addText(svg, 1744, 1122, "E-Mac", 35.5, { anchor: "middle" });

    // ---- D
    const topRow = { top: 670.5, bottom: 847 };
    const botRow = { top: 875.7, bottom: 1052.3 };
    const sscTop = [844, 679.3];
    const sscBot = [1049, 884.4];
    const decTop = [838.3, 806, 776, 727.7, 686.7];
    const decBot = decTop.map((v) => v + 205.3);
    const cd45X = [711, 739.3, 770, 819, 860];
    const f480X = [960, 989, 1021.7, 1071, 1111.7];
    const arg1X = [1218, 1246.7, 1279, 1327.7, 1368.3];
    const sscTopA = [842.3, 679.3];
    const sscBotA = [1047.6, 884.6];

    drawFlow(svg, defs, { id: "f1", left: 699.3, right: 876.7, ...topRow, xPos: cd45X, yKind: "ssc", yPos: sscTop, layers: cd45TopLayers, stray: cd45TopStray });
    drawFlow(svg, defs, { id: "f2", left: 699.3, right: 876.7, ...botRow, xPos: cd45X, yKind: "ssc", yPos: sscBot, layers: cd45BottomLayers, stray: cd45BottomStray });
    drawFlow(svg, defs, { id: "f3", left: 949, right: 1126.7, ...topRow, xPos: f480X, yKind: "decade", yPos: decTop, layers: f480TopLayers });
    drawFlow(svg, defs, { id: "f4", left: 949, right: 1126.7, ...botRow, xPos: f480X, yKind: "decade", yPos: decBot, layers: f480BottomLayers });
    drawFlow(svg, defs, { id: "f5", left: 1207.7, right: 1383.3, ...topRow, xPos: arg1X, yKind: "ssc", yPos: sscTopA, layers: arg1TopLayers, stray: arg1TopStray, strayR: 1.5 });
    drawFlow(svg, defs, { id: "f6", left: 1207.7, right: 1383.3, ...botRow, xPos: arg1X, yKind: "ssc", yPos: sscBotA, layers: arg1BottomLayers, stray: arg1BottomStray, strayR: 1.5 });

    const gate = (x1: number, x2: number, y1: number, y2: number, w = 1.3, c = "#555") =>
      svg.append("rect").attr("x", x1).attr("y", y1).attr("width", x2 - x1).attr("height", y2 - y1)
        .attr("fill", "none").attr("stroke", c).attr("stroke-width", w);
    gate(767.3, 875.5, 672, 846, 2.4, "#8a8a8a");
    gate(767.3, 875.5, 877, 1051.5, 2.4, "#8a8a8a");
    svg.append("line").attr("x1", 767.3).attr("x2", 767.3).attr("y1", 671).attr("y2", 847).attr("stroke", "#555").attr("stroke-width", 1.3);
    svg.append("line").attr("x1", 767.3).attr("x2", 767.3).attr("y1", 876).attr("y2", 1052).attr("stroke", "#555").attr("stroke-width", 1.3);
    gate(1007.7, 1120, 685.7, 765.7);
    gate(1009.3, 1120, 891, 969);
    gate(1311, 1382, 673, 838);
    gate(1311, 1382, 878.7, 1044);

    addText(svg, 835, 710, "88.3", 33, { anchor: "middle" });
    addText(svg, 831, 913, "90.3", 33, { anchor: "middle" });
    addText(svg, 1087.7, 724, "7.2", 33, { anchor: "middle" });
    addText(svg, 1084, 931, "7.4", 33, { anchor: "middle" });
    addText(svg, 1346.7, 711.7, "0.1", 33, { anchor: "middle", fill: "#df3030" });
    addText(svg, 1347.7, 915, "12.5", 33, { anchor: "middle", fill: "#df3030" });

    addText(svg, 536.7, 771, "L-Mac", 36);
    addText(svg, 536.7, 968, "E-Mac", 36);
    addText(svg, 664, 1058, "SSC", 34, { rotate: true });
    addText(svg, 917, 1058, "CD11b", 34.5, { rotate: true });
    addText(svg, 1170.7, 1058, "SSC", 34, { rotate: true });
    addText(svg, 696, 1111.7, "CD45", 35);
    addText(svg, 951.7, 1111.7, "F4/80", 35);
    addText(svg, 1206, 1111.7, "Arg1", 35);
    addArrow(svg, 654, 978, 654, 668);
    addArrow(svg, 908, 945, 908, 670);
    addArrow(svg, 1161.7, 977, 1161.7, 668);
    addArrow(svg, 786.7, 1100, 876.7, 1100);
    addArrow(svg, 1038, 1100, 1126, 1100);
    addArrow(svg, 1291.7, 1100, 1380.7, 1100);
  }, []);

  return <svg ref={ref} width={1800} height={1132} style={{ position: "absolute", left: 0, top: 0, display: "block", background: "#fff" }} />;
}
